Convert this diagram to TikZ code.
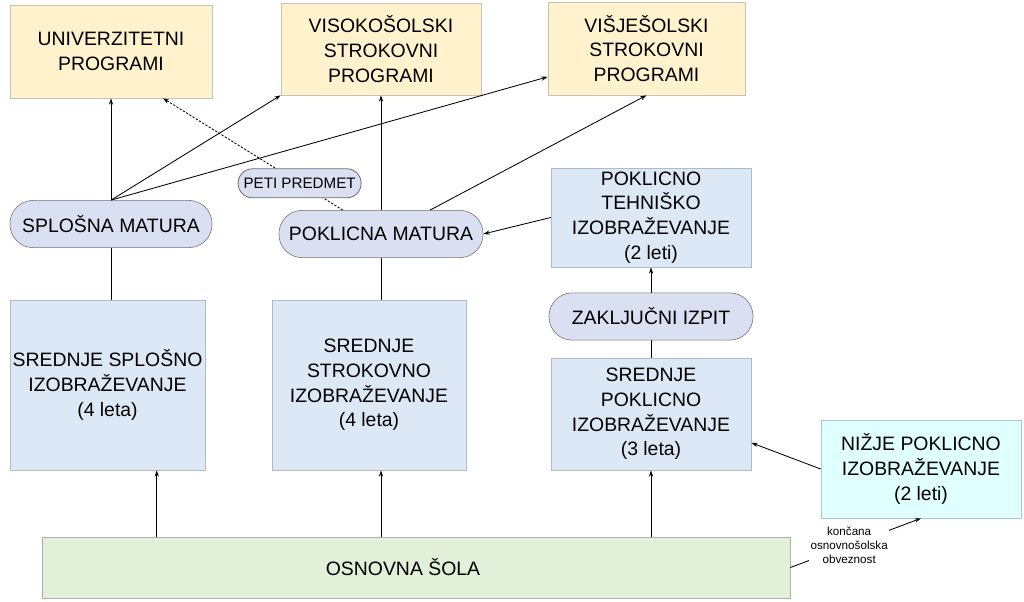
\documentclass[tikz,border=0pt]{standalone}
\usepackage{fontspec}
\setmainfont{Liberation Sans}
\usepackage{tikz}
\usetikzlibrary{arrows.meta, positioning}
\definecolor{progyellow}{RGB}{255, 242, 204}
\definecolor{progline}{RGB}{200, 195, 180}
\definecolor{edublue}{RGB}{220, 232, 245}
\definecolor{eduline}{RGB}{175, 188, 200}
\definecolor{examlilac}{RGB}{218, 223, 242}
\definecolor{examline}{RGB}{110, 110, 120}
\definecolor{lowcyan}{RGB}{224, 255, 255}
\definecolor{lowline}{RGB}{170, 200, 200}
\definecolor{basegreen}{RGB}{226, 239, 217}
\definecolor{baseline}{RGB}{170, 180, 160}
\newcommand{\boxfont}{\fontsize{13.8}{17.5}\selectfont}
\tikzset{
  progbox/.style={rectangle, draw=progline, fill=progyellow, minimum width=#1,
              align=center, inner sep=1pt, font=\boxfont},
  progbox/.default=5cm,
  edubox/.style={rectangle, draw=eduline, fill=edublue, minimum width=#1,
              align=center, inner sep=1pt, font=\boxfont},
  edubox/.default=5cm,
  exambox/.style={rectangle, rounded corners=0.58cm, draw=examline, fill=examlilac,
              minimum width=#1, minimum height=1.18cm, align=center,
              inner sep=1pt, font=\boxfont},
  exambox/.default=5cm,
  lowbox/.style={rectangle, draw=lowline, fill=lowcyan, minimum width=#1,
              align=center, inner sep=1pt, font=\boxfont},
  lowbox/.default=5cm,
  basebox/.style={rectangle, draw=baseline, fill=basegreen, minimum width=#1,
              align=center, inner sep=1pt, font=\boxfont},
  arrow/.style={-{Stealth[length=4.5pt, width=3pt]}, line width=0.6pt, color=black},
  dotarrow/.style={-{Stealth[length=4.5pt, width=3pt]}, line width=0.6pt,
              dash pattern=on 1.6pt off 1.1pt, color=black},
  plain/.style={line width=0.6pt, color=black},
}
\begin{document}
\begin{tikzpicture}[x=0.025cm, y=-0.025cm]
  \useasboundingbox (0,0) rectangle (1024,601);
  % Study programmes
  \node[progbox=5.05cm, minimum height=2.325cm] (univ) at (111,51.5) {UNIVERZITETNI\\PROGRAMI};
  \node[progbox=5cm, minimum height=2.3cm] (viso) at (381,49) {VISOKOŠOLSKI\\STROKOVNI\\PROGRAMI};
  \node[progbox=4.925cm, minimum height=2.325cm] (visje) at (646.5,48.5) {VIŠJEŠOLSKI\\STROKOVNI\\PROGRAMI};
  % Exams
  \node[exambox=5.05cm] (splmat) at (111,224) {SPLOŠNA MATURA};
  \node[exambox=5.1cm] (pokmat) at (381,234) {POKLICNA MATURA};
  \node[exambox=5.1cm] (zakl) at (651,316.5) {ZAKLJUČNI IZPIT};
  % Secondary education
  \node[edubox=5cm, minimum height=2.475cm] (poktehn) at (651,217.5) {POKLICNO\\TEHNIŠKO\\IZOBRAŽEVANJE\\(2 leti)};
  \node[edubox=4.875cm, minimum height=4.25cm] (srsplos) at (107.5,385) {SREDNJE SPLOŠNO\\IZOBRAŽEVANJE\\(4 leta)};
  \node[edubox=4.85cm, minimum height=4.25cm] (srstrok) at (369,385) {SREDNJE\\STROKOVNO\\IZOBRAŽEVANJE\\(4 leta)};
  \node[edubox=5cm, minimum height=2.8cm] (srpokl) at (651,414) {SREDNJE\\POKLICNO\\IZOBRAŽEVANJE\\(3 leta)};
  \node[lowbox=5cm, minimum height=2.45cm] (nizje) at (921,469) {NIŽJE POKLICNO\\IZOBRAŽEVANJE\\(2 leti)};
  \node[basebox=18.7cm, minimum height=1.525cm] (osnova) at (416,567.5) {\hspace*{-0.65cm}OSNOVNA ŠOLA};
  % From primary school
  \draw[arrow] (osnova.north -| srsplos.300) -- (srsplos.300);
  \draw[arrow] (osnova.north -| pokmat.south) -- (srstrok.south -| pokmat.south);
  \draw[arrow] (osnova.north -| srpokl.south) -- (srpokl.south);
  \draw[arrow] (osnova.east) -- node[pos=0.45, fill=white, inner sep=1pt,
    font=\fontsize{8.3}{10}\selectfont, align=center] (konc) {končana\\osnovnošolska\\obveznost} (nizje.south);
  \draw[arrow] (nizje.west) -- (srpokl.-16);
  % Into the exams
  \draw[plain] (srsplos.north -| splmat.south) -- (splmat.south);
  \draw[plain] (srstrok.north -| pokmat.south) -- (pokmat.south);
  \draw[plain] (srpokl.north) -- (zakl.south);
  \draw[arrow] (zakl.north) -- (poktehn.south);
  \draw[arrow] (poktehn.west) -- (pokmat.east);
  % Towards the programmes
  \draw[arrow] (splmat.north) -- (univ.south);
  \draw[arrow] (splmat.north) -- (viso.south west);
  \draw[arrow] (splmat.north) -- (visje.196);
  \draw[arrow] (pokmat.north) -- (viso.south);
  \draw[arrow] (pokmat.26) -- (visje.south);
  \draw[dotarrow] (pokmat.148) -- node[pos=0.24, rectangle, rounded corners=0.36cm,
    draw=examline, fill=examlilac, minimum width=3.075cm, minimum height=0.725cm,
    inner sep=1pt, font=\fontsize{10.8}{13}\selectfont, solid] (peti) {PETI PREDMET} (univ.-42);
\end{tikzpicture}
\end{document}
